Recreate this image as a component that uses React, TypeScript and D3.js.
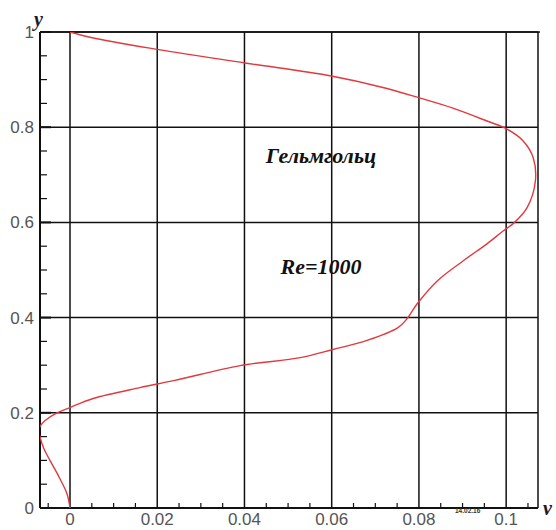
import React from 'react';
import * as d3 from 'd3';

// profile v(y)
const curveV = [
  0, -0.0007, -0.0028, -0.0046, -0.006, -0.0069, -0.0072, -0.0066, -0.0057, -0.003, 0, 0.0053, 0.016, 0.024, 0.039,
  0.0528, 0.0603, 0.0681, 0.0752, 0.0773, 0.0796, 0.0842, 0.0901, 0.0956, 0.0993, 0.1018, 0.1048, 0.1067,
  0.1062, 0.1039, 0.1002, 0.0956, 0.0878, 0.0803, 0.0715, 0.0596, 0.0401, 0.0183, 0.0046, 0,
];
const curveY = [
  0, 0.03, 0.07, 0.1, 0.125, 0.15, 0.163, 0.175, 0.184, 0.2, 0.211, 0.23, 0.253, 0.268, 0.299,
  0.316, 0.333, 0.352, 0.379, 0.398, 0.429, 0.477, 0.519, 0.555, 0.582, 0.599, 0.631, 0.687,
  0.736, 0.771, 0.796, 0.813, 0.84, 0.861, 0.884, 0.908, 0.935, 0.966, 0.989, 1,
];

const xTicks = [0, 0.02, 0.04, 0.06, 0.08, 0.1];
const xTickLabels = ['0', '0.02', '0.04', '0.06', '0.08', '0.1'];
const yTicks = [0, 0.2, 0.4, 0.6, 0.8, 1];
const yTickLabels = ['0', '0.2', '0.4', '0.6', '0.8', '1'];

const W = 556;
const H = 530;

const App = () => {
  const x = d3.scaleLinear().domain([-0.00688, 0.1073]).range([40, 538]);
  const y = d3.scaleLinear().domain([0, 1]).range([508, 32]);

  const pts: [number, number][] = curveV.map((v, i) => [v, curveY[i]]);
  const line = d3
    .line<[number, number]>()
    .x((d) => x(d[0]))
    .y((d) => y(d[1]))
    .curve(d3.curveCatmullRom.alpha(0.5));

  const [x0, x1] = x.range();
  const [yb, yt] = y.range();

  // minor ticks
  const xMinor = d3.range(-0.005, 0.1073, 0.005).filter((t) => Math.abs(t / 0.02 - Math.round(t / 0.02)) > 1e-6);
  const yMinor = d3.range(0.05, 1, 0.05).filter((t) => Math.abs(t / 0.2 - Math.round(t / 0.2)) > 1e-6);

  const labelStyle = { fontFamily: 'Arial, "Liberation Sans", sans-serif', fontSize: 17, fill: '#555' };
  const serifBI = { fontFamily: '"Liberation Serif", serif', fontStyle: 'italic', fontWeight: 'bold' };

  return (
    <svg width={W} height={H} style={{ position: 'absolute', left: 0, top: 0, background: '#fff' }}>
      <defs>
        <clipPath id="plot">
          <rect x={x0} y={yt} width={x1 - x0} height={yb - yt} />
        </clipPath>
      </defs>

      {/* grid */}
      {xTicks.map((t) => (
        <line key={'gx' + t} x1={x(t)} x2={x(t)} y1={yb} y2={yt} stroke="#111" strokeWidth={1.5} />
      ))}
      {yTicks.map((t) => (
        <line key={'gy' + t} x1={x0} x2={x1} y1={y(t)} y2={y(t)} stroke="#111" strokeWidth={1.5} />
      ))}

      {/* frame */}
      <line x1={x0} x2={x1 + 2} y1={yt} y2={yt} stroke="#111" strokeWidth={1.5} />
      <line x1={x1} x2={x1} y1={yt} y2={yb} stroke="#111" strokeWidth={1.5} />
      <line x1={x0} x2={x1} y1={yb} y2={yb} stroke="#111" strokeWidth={2} />
      <line x1={x0} x2={x0} y1={yt} y2={yb} stroke="#111" strokeWidth={2} />

      {/* ticks */}
      {xMinor.map((t) => (
        <line key={'mx' + t} x1={x(t)} x2={x(t)} y1={yb} y2={yb - 5} stroke="#111" strokeWidth={1.2} />
      ))}
      {yMinor.map((t) => (
        <line key={'my' + t} x1={x0} x2={x0 + 7} y1={y(t)} y2={y(t)} stroke="#111" strokeWidth={1.2} />
      ))}
      {yTicks.map((t) => (
        <line key={'My' + t} x1={x0} x2={x0 + 11} y1={y(t)} y2={y(t)} stroke="#111" strokeWidth={2} />
      ))}

      {/* curve */}
      <path d={line(pts) ?? ''} fill="none" stroke="#e2393f" strokeWidth={1.4} clipPath="url(#plot)" />

      {/* tick labels */}
      {xTicks.map((t, i) => (
        <text key={'lx' + t} x={x(t)} y={525} textAnchor="middle" style={labelStyle}>
          {xTickLabels[i]}
        </text>
      ))}
      {yTicks.map((t, i) => (
        <text key={'ly' + t} x={34} y={y(t) + 6} textAnchor="end" style={labelStyle}>
          {yTickLabels[i]}
        </text>
      ))}

      {/* axis titles */}
      <text x={34} y={26} style={{ ...serifBI, fontSize: 20, fill: '#1a1a2a' }}>
        y
      </text>
      <text x={543} y={515} style={{ ...serifBI, fontSize: 20, fill: '#1a1a2a' }}>
        v
      </text>
      <text x={455} y={513} style={{ fontFamily: 'Arial, sans-serif', fontWeight: 'bold', fontSize: 6.5, fill: '#333' }}>
        14.02.16
      </text>

      {/* annotations */}
      <text x={321} y={163} textAnchor="middle" style={{ ...serifBI, fontSize: 22, fill: '#111' }}>
        Гельмгольц
      </text>
      <text x={321} y={274} textAnchor="middle" style={{ ...serifBI, fontSize: 22, fill: '#111' }}>
        Re=1000
      </text>
    </svg>
  );
};

export default App;
